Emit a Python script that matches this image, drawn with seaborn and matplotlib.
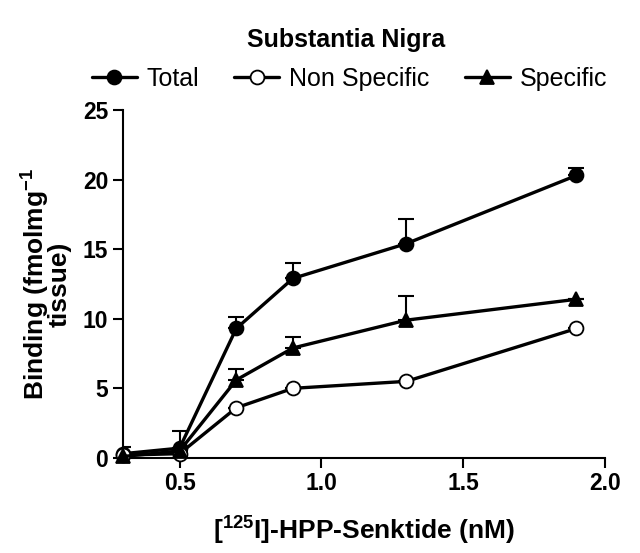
import matplotlib
matplotlib.use("Agg")
import matplotlib.pyplot as plt
import seaborn as sns
import pandas as pd

conc = [0.3, 0.5, 0.7, 0.9, 1.3, 1.9]
total = [0.3, 0.7, 9.3, 12.9, 15.4, 20.3]
total_err = [0.5, 1.2, 0.8, 1.1, 1.8, 0.5]
nonspec = [0.2, 0.3, 3.6, 5.0, 5.5, 9.3]
nonspec_err = [0.0, 0.0, 0.0, 0.0, 0.0, 0.0]
specific = [0.1, 0.5, 5.6, 7.9, 9.9, 11.4]
specific_err = [0.0, 0.0, 0.8, 0.8, 1.7, 0.0]
series_names = ["Total", "Non Specific", "Specific"]

sns.set_theme(style="ticks")
plt.rcParams["font.family"] = ["Liberation Sans", "DejaVu Sans"]
plt.rcParams["mathtext.fontset"] = "custom"
plt.rcParams["mathtext.rm"] = "Liberation Sans:bold"
plt.rcParams["mathtext.bf"] = "Liberation Sans:bold"
plt.rcParams["mathtext.default"] = "bf"
plt.rcParams["text.color"] = "black"
plt.rcParams["axes.labelcolor"] = "black"
plt.rcParams["xtick.color"] = "black"
plt.rcParams["ytick.color"] = "black"

fig = plt.figure(figsize=(6.4, 5.53), dpi=100)
ax = fig.add_axes([0.192, 0.172, 0.753, 0.629])

styles = [
    (series_names[0], total, total_err, dict(marker="o", markerfacecolor="black")),
    (series_names[1], nonspec, nonspec_err, dict(marker="o", markerfacecolor="white")),
    (series_names[2], specific, specific_err, dict(marker="^", markerfacecolor="black")),
]

for name, vals, errs, mk in styles:
    df = pd.DataFrame({"x": conc, "y": vals})
    ax.errorbar(conc, vals, yerr=[[0] * len(errs), errs], fmt="none",
                ecolor="black", elinewidth=1.5, capsize=6, capthick=1.5, zorder=1)
    sns.lineplot(data=df, x="x", y="y", ax=ax, color="black", linewidth=2.4,
                 markersize=10, markeredgecolor="black", markeredgewidth=1.3,
                 label=name, zorder=3, clip_on=False, **mk)

ax.set_xlim(0.3, 2.0)
ax.set_ylim(0, 25)
ax.set_xticks([0.5, 1.0, 1.5, 2.0])
ax.set_xticklabels(["0.5", "1.0", "1.5", "2.0"])
ax.set_yticks([0, 5, 10, 15, 20, 25])
sns.despine(ax=ax)
for s in ["left", "bottom"]:
    ax.spines[s].set_linewidth(1.5)
    ax.spines[s].set_color("black")
ax.tick_params(axis="both", length=7, width=1.5, color="black", labelsize=16.5,
               labelcolor="black", direction="out")
for lab in ax.get_xticklabels() + ax.get_yticklabels():
    lab.set_fontweight("bold")

ax.set_xlabel(r"[$^{125}$I]-HPP-Senktide (nM)", fontsize=19, fontweight="bold",
              labelpad=14, color="black")
ax.set_ylabel("Binding (fmolmg$^{-1}$\ntissue)", fontsize=19, fontweight="bold",
              labelpad=8, linespacing=0.75, color="black")

fig.text(0.54, 0.928, "Substantia Nigra", ha="center", va="center",
         fontsize=18, fontweight="bold", color="black")

leg = ax.legend(loc="center", bbox_to_anchor=(0.47, 1.09), ncol=3, frameon=False,
                fontsize=18, handlelength=1.8, columnspacing=1.4, handletextpad=0.4)
for t in leg.get_texts():
    t.set_color("black")

fig.savefig("out.png", dpi=100)
